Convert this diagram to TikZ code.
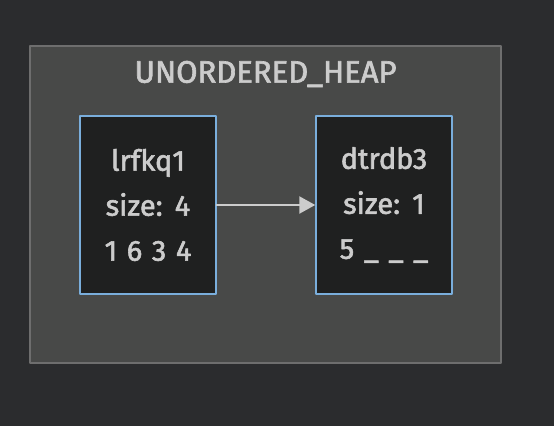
\documentclass[tikz,border=0pt]{standalone}
\usepackage{fontspec}
\setmainfont{Fira Sans}[FakeBold=2,WordSpace=1.25]
\usetikzlibrary{arrows.meta}
\definecolor{bgdark}{HTML}{2B2C2E}
\definecolor{clusterfill}{HTML}{484948}
\definecolor{clusterline}{HTML}{6E6E6E}
\definecolor{nodefill}{HTML}{1F2020}
\definecolor{nodeline}{HTML}{7AAEDC}
\definecolor{labeltext}{HTML}{CCCCCC}
\tikzset{
  heapblock/.style={draw=nodeline,fill=nodefill,line width=1.5pt,minimum width=136pt,minimum height=178pt,inner sep=0pt,align=center,text=labeltext,font=\fontsize{29}{45}\selectfont},
  heaplink/.style={draw=labeltext,line width=2.4pt,-{Triangle[length=16pt,width=17pt]}}
}
\begin{document}
\begin{tikzpicture}[line cap=round,line join=round,x=1pt,y=-1pt]
			\useasboundingbox (0,0) rectangle (554,426);
			\fill[bgdark] (0,0) rectangle (554,426);
			\draw[draw=clusterline,fill=clusterfill,line width=1.5pt] (30,46) rectangle (501,363);
			\node[text=labeltext,font=\fontsize{31}{36}\selectfont] (heaptitle) at (265.5,74) {UNORDERED\_HEAP};
			\node[heapblock] (lrfkq1) at (148,205) {lrfkq1\\size: 4\\1 6 3 4};
			\node[heapblock] (dtrdb3) at (384,205) {dtrdb3\\size: 1\\5 \_ \_ \_};
			\draw[heaplink] (lrfkq1) -- (dtrdb3);
		\end{tikzpicture}
\end{document}
